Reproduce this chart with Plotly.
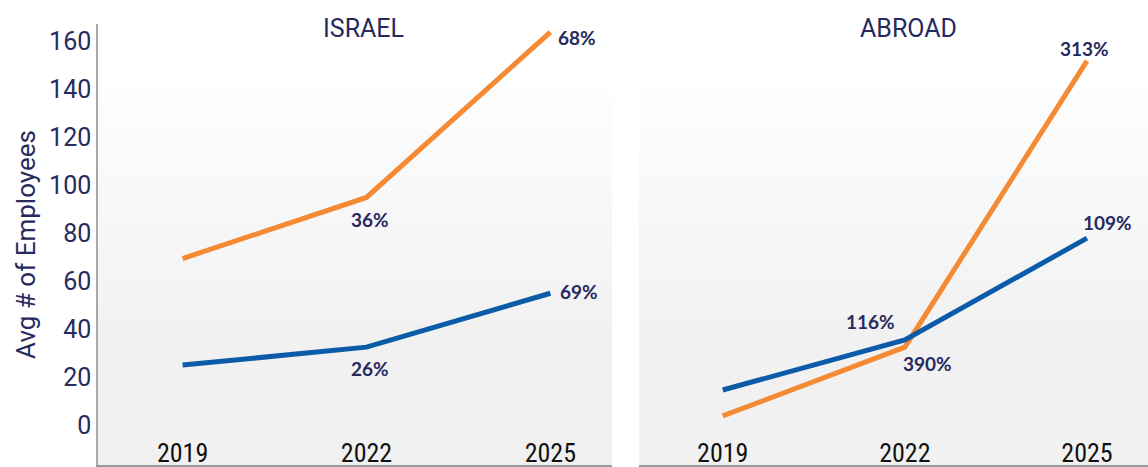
import plotly.graph_objects as go

years = ["2019", "2022", "2025"]
israel_orange = [69.5, 95, 164]
israel_blue = [25, 32.5, 55]
abroad_orange = [3.8, 32.5, 152]
abroad_blue = [14.6, 35.5, 78]

israel_orange_labels = ["", "36%", "68%"]
israel_blue_labels = ["", "26%", "69%"]
abroad_orange_labels = ["", "390%", "313%"]
abroad_blue_labels = ["", "116%", "109%"]

panel_titles = ["ISRAEL", "ABROAD"]
y_ticks = [0, 20, 40, 60, 80, 100, 120, 140, 160]

ORANGE = "#F58A35"
BLUE = "#0B5BA8"
NAVY = "#262A5E"

fig = go.Figure()
fig.add_trace(go.Scatter(x=years, y=israel_orange, mode="lines", line=dict(color=ORANGE, width=5), xaxis="x", yaxis="y", showlegend=False))
fig.add_trace(go.Scatter(x=years, y=israel_blue, mode="lines", line=dict(color=BLUE, width=5), xaxis="x", yaxis="y", showlegend=False))
fig.add_trace(go.Scatter(x=years, y=abroad_orange, mode="lines", line=dict(color=ORANGE, width=5), xaxis="x2", yaxis="y2", showlegend=False))
fig.add_trace(go.Scatter(x=years, y=abroad_blue, mode="lines", line=dict(color=BLUE, width=5), xaxis="x2", yaxis="y2", showlegend=False))

yr = [-16.7, 167.4]
xr = [-0.46, 2.335]
tickfont_x = dict(family="Liberation Sans Narrow, Roboto Condensed, Arial Narrow, sans-serif", size=26, color="#111111")

fig.update_layout(
    width=1148, height=467,
    margin=dict(l=98, r=0, t=24, b=2),
    paper_bgcolor="white", plot_bgcolor="rgba(0,0,0,0)",
    xaxis=dict(domain=[0, 0.4895], type="category", range=xr, showgrid=False, zeroline=False,
               showline=True, linecolor="#9a9a9a", linewidth=1.5, ticks="",
               ticklabelposition="inside", tickfont=tickfont_x),
    xaxis2=dict(domain=[0.5152, 1], type="category", range=xr, showgrid=False, zeroline=False,
                showline=True, linecolor="#9a9a9a", linewidth=1.5, ticks="",
                ticklabelposition="inside", tickfont=tickfont_x, anchor="y2"),
    yaxis=dict(range=yr, tickvals=y_ticks, showgrid=False, zeroline=False, showline=True,
               linecolor="#a8a8a8", linewidth=1.5, ticks="",
               tickfont=dict(family="Roboto, sans-serif", size=25, color=NAVY),
               title=dict(text="Avg # of Employees", font=dict(family="Roboto, sans-serif", size=26, color=NAVY), standoff=6)),
    yaxis2=dict(range=yr, anchor="x2", showgrid=False, zeroline=False, showline=False,
                showticklabels=False, ticks=""),
)

# gradient background bands
shapes = []
top_p, fade_end, bottom_p, total = 83, 330, 465, 441
n = 30
for xref in ["x domain", "x2 domain"]:
    for i in range(n):
        p0 = top_p + (fade_end - top_p) * i / n
        p1 = top_p + (fade_end - top_p) * (i + 1) / n
        c = round(254 - (254 - 241) * (i + 0.5) / n)
        shapes.append(dict(type="rect", xref=xref, yref="paper", x0=0, x1=1,
                           y0=(465 - p1) / total, y1=(465 - p0) / total,
                           fillcolor=f"rgb({c},{c},{c})", line=dict(width=0), layer="below"))
    shapes.append(dict(type="rect", xref=xref, yref="paper", x0=0, x1=1,
                       y0=0, y1=(465 - fade_end) / total,
                       fillcolor="rgb(241,241,241)", line=dict(width=0), layer="below"))
fig.update_layout(shapes=shapes)

annots = []
for i, t in enumerate(panel_titles):
    annots.append(dict(text=t, xref=("x" if i == 0 else "x2") + " domain", yref="paper",
                       x=0.516 if i == 0 else 0.53, y=1.0, yshift=-4, showarrow=False,
                       font=dict(family="Roboto, sans-serif", size=25, color=NAVY), yanchor="middle"))

lab_font = dict(family="Lato, sans-serif", size=19, color=NAVY, weight="bold")

def add_labels(xref, yref, vals, labels, offsets):
    for k, (v, lab) in enumerate(zip(vals, labels)):
        if not lab:
            continue
        dx, dy, xa = offsets[k]
        # category axes: annotation x uses the category's serial number
        annots.append(dict(text=lab, x=k, y=v, xref=xref, yref=yref, showarrow=False,
                           xshift=dx, yshift=dy, xanchor=xa, yanchor="middle", font=lab_font))

add_labels("x", "y", israel_orange, israel_orange_labels, [None, (4, -22, "center"), (6, -5, "left")])
add_labels("x", "y", israel_blue, israel_blue_labels, [None, (4, -21, "center"), (8, 2, "left")])
add_labels("x2", "y2", abroad_orange, abroad_orange_labels, [None, (-4, -16, "left"), (-2, 12, "center")])
add_labels("x2", "y2", abroad_blue, abroad_blue_labels, [None, (-8, 18, "right"), (-6, 16, "left")])

fig.update_layout(annotations=annots)
fig.write_html("out.html")
